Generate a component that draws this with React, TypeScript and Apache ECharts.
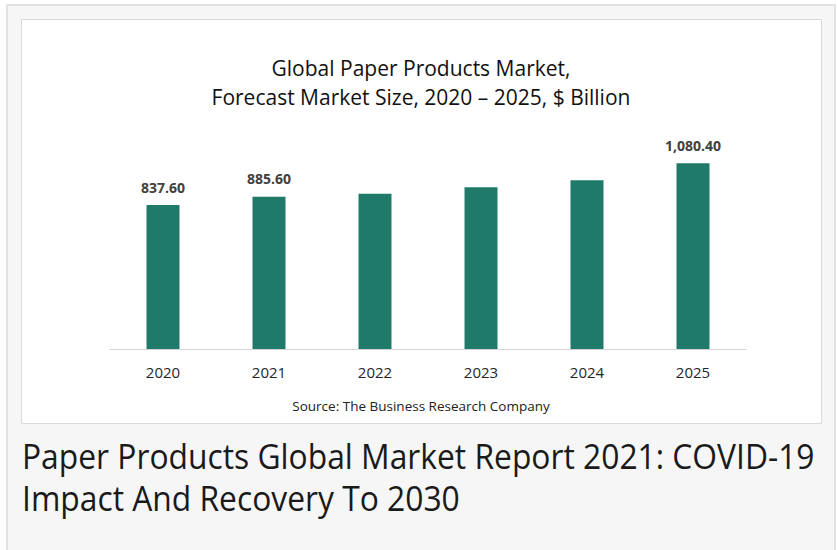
import React, { useEffect, useRef } from "react";
import * as echarts from "echarts";

const years = ["2020", "2021", "2022", "2023", "2024", "2025"];
const marketSize = [837.6, 885.6, 903, 941, 982, 1080.4];
const labeledYears = ["2020", "2021", "2025"];
const chartTitle = ["Global Paper Products Market,", "Forecast Market Size, 2020 – 2025, $ Billion"];
const sourceNote = "Source: The Business Research Company";
const reportTitle = ["Paper Products Global Market Report 2021: COVID-19", "Impact And Recovery To 2030"];

export default function App() {
  const ref = useRef<HTMLDivElement>(null);
  useEffect(() => {
    const chart = echarts.init(ref.current!, null, { renderer: "svg" });
    const yMax = 1200;
    const base = 349;
    const pxPerUnit = 144 / 837.6;
    const gridTop = base - yMax * pxPerUnit;
    const txt = (text: string, x: number, y: number, font: string, fill: string, align: string, scaleX = 1) => ({
      type: "text",
      x,
      y,
      scaleX,
      z: 5,
      style: {
        text,
        x: 0,
        y: 0,
        font,
        fill,
        align,
        textAlign: align,
        verticalAlign: "middle",
        textVerticalAlign: "middle",
      },
    });
    chart.setOption({
      animation: false,
      backgroundColor: "#ffffff",
      graphic: [
        {
          type: "rect",
          z: -20,
          shape: { x: 7, y: 5, width: 828, height: 570 },
          style: { fill: "#f6f6f6", stroke: "#e2e2e2", lineWidth: 2 },
        },
        {
          type: "rect",
          z: -19,
          shape: { x: 21.5, y: 19.5, width: 800, height: 404 },
          style: { fill: "#ffffff", stroke: "#dadada", lineWidth: 1 },
        },
        txt(chartTitle[0], 421, 68, "21px 'Open Sans'", "#111111", "center"),
        txt(chartTitle[1], 421, 97, "21px 'Open Sans'", "#111111", "center"),
        txt(sourceNote, 421, 406, "13.5px 'Open Sans'", "#222222", "center"),
        txt(reportTitle[0], 22, 456, "34px 'Open Sans'", "#1a1a1a", "left", 0.935),
        txt(reportTitle[1], 22, 498, "34px 'Open Sans'", "#1a1a1a", "left", 0.935),
      ],
      grid: { left: 110, right: 92, top: gridTop, bottom: 550 - base },
      xAxis: {
        type: "category",
        data: years,
        z: 4,
        axisLine: { lineStyle: { color: "#d4d4d4", width: 1 } },
        axisTick: { show: false },
        axisLabel: { fontFamily: "Open Sans", fontSize: 15, color: "#262626", margin: 15 },
      },
      yAxis: { type: "value", min: 0, max: yMax, show: false, splitLine: { show: false } },
      series: [
        {
          type: "bar",
          barWidth: 33,
          z: 3,
          itemStyle: { color: "#207a6a" },
          label: {
            position: "top",
            distance: 11,
            fontFamily: "Open Sans",
            fontWeight: "bold",
            fontSize: 14,
            color: "#404040",
            formatter: (p: any) =>
              Number(p.value).toLocaleString("en-US", { minimumFractionDigits: 2, maximumFractionDigits: 2 }),
          },
          data: marketSize.map((v, i) => ({ value: v, label: { show: labeledYears.includes(years[i]) } })),
        },
      ],
    });
    return () => chart.dispose();
  }, []);
  return <div ref={ref} style={{ position: "absolute", left: 0, top: 0, width: 838, height: 550 }} />;
}
